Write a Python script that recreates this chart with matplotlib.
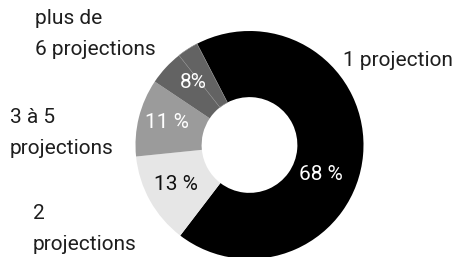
import matplotlib
matplotlib.use("Agg")
import matplotlib.pyplot as plt

# Data
categories = ["1 projection", "2\nprojections", "3 à 5\nprojections", "plus de\n6 projections", "plus de\n6 projections"]
values = [68, 13, 11, 5, 3]
colors = ["#000000", "#e6e6e6", "#9b9b9b", "#636363", "#636363"]
pct_labels = ["68 %", "13 %", "11 %", "8%"]

plt.rcParams['font.family'] = ['Roboto', 'DejaVu Sans']

fig = plt.figure(figsize=(4.58, 2.57), dpi=100)
W, H = 458, 257
cx, cy, R = 249.5, 145, 114
ax = fig.add_axes([(cx - R) / W, (H - cy - R) / H, 2 * R / W, 2 * R / H])

wedges, _ = ax.pie(values, colors=colors, radius=1, startangle=117.4, counterclock=False,
                   wedgeprops=dict(width=0.58, linewidth=0))
ax.set_xlim(-1, 1)
ax.set_ylim(-1, 1)
ax.axis("off")
# thin seam between the two parts of the last slice
wedges[4].set_edgecolor("#8a8a8a")
wedges[4].set_linewidth(0.4)

def px(x, y):
    return ((x - cx) / R, (cy - y) / R)

fs = 15
pct_pos = [(321, 175, "white"), (176, 185, "#111111"), (167, 123, "white"), (193, 83, "white")]
for lab, (x, y, c) in zip(pct_labels, pct_pos):
    ax.text(*px(x, y), lab, color=c, fontsize=fs, ha="center", va="center")

txt_color = "#1e1e1e"
out_labels = [("1 projection", 343, 60), ("plus de\n6 projections", 35, 34),
              ("3 à 5\nprojections", 10, 133), ("2\nprojections", 33, 229)]
for lab, x, y in out_labels:
    fig.text(x / W, (H - y) / H, lab, color=txt_color, fontsize=fs, ha="left", va="center",
             linespacing=1.85)

fig.savefig("out.png", dpi=100)
